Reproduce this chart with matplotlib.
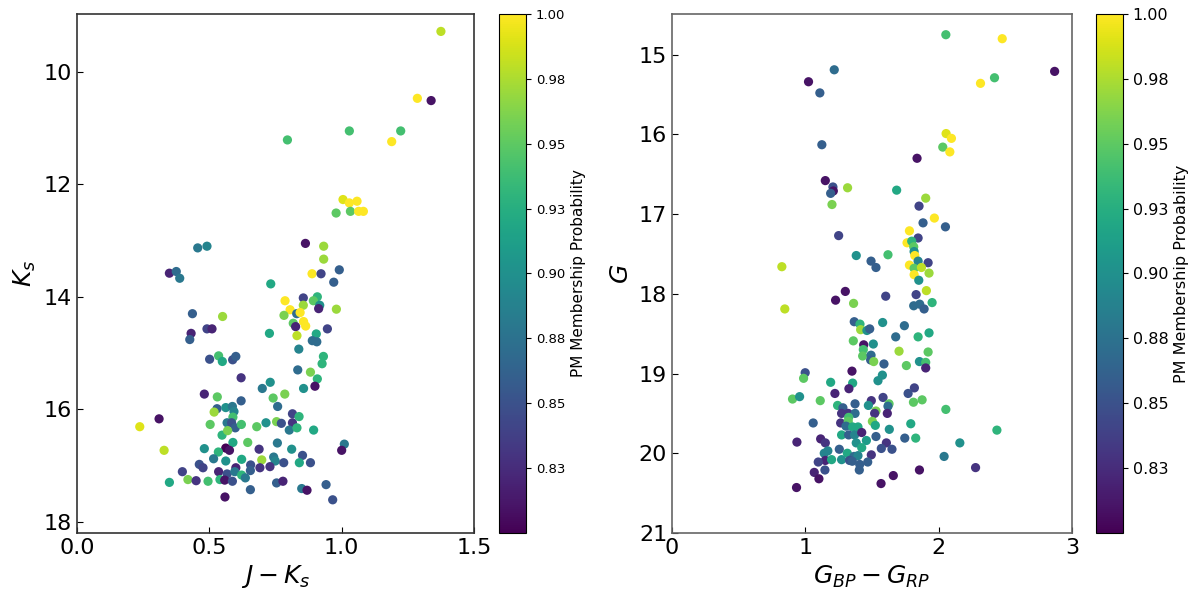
import numpy as np
import matplotlib
matplotlib.use("Agg")
import matplotlib.pyplot as plt
from matplotlib.colors import Normalize

# 2MASS CMD: J-Ks, Ks, membership probability
jk = [1.375, 1.286, 1.338, 0.795, 1.029, 1.223, 1.189, 1.005, 1.029, 1.058,
      0.979, 1.033, 1.064, 1.082, 0.863, 0.932, 0.932, 0.456, 0.491, 0.349,
      0.375, 0.388, 0.888, 0.922, 0.991, 0.970, 0.732, 0.786, 0.855, 0.908,
      0.893, 0.855, 0.917, 0.913, 0.805, 0.782, 0.830, 0.843, 0.856, 0.864,
      0.817, 0.826, 0.831, 0.980, 0.946, 0.904, 0.889, 0.906, 0.838, 0.931,
      0.926, 0.834, 0.882, 0.908, 0.899, 0.856, 0.550, 0.436, 0.491, 0.510,
      0.431, 0.426, 0.727, 0.501, 0.535, 0.549, 0.588, 0.600, 0.620, 0.481,
      0.530, 0.529, 0.518, 0.310, 0.237, 0.329, 0.562, 0.587, 0.593, 0.589,
      0.567, 0.584, 0.598, 0.621, 0.503, 0.548, 0.569, 0.620, 0.700, 0.730,
      0.741, 0.785, 0.758, 0.679, 0.714, 0.754, 0.772, 0.814, 0.814, 0.802,
      0.839, 0.831, 0.894, 0.589, 0.645, 0.757, 1.010, 1.000, 0.481, 0.562,
      0.576, 0.534, 0.688, 0.811, 0.852, 0.516, 0.562, 0.622, 0.656, 0.698,
      0.743, 0.749, 0.781, 0.840, 0.882, 0.462, 0.476, 0.398, 0.600, 0.691,
      0.729, 0.535, 0.567, 0.596, 0.622, 0.636, 0.655, 0.349, 0.419, 0.450,
      0.495, 0.540, 0.558, 0.587, 0.754, 0.778, 0.655, 0.849, 0.869, 0.941,
      0.559, 0.966]
ks = [9.28, 10.47, 10.51, 11.21, 11.05, 11.05, 11.24, 12.27, 12.33, 12.30,
      12.51, 12.48, 12.48, 12.48, 13.05, 13.10, 13.33, 13.13, 13.10, 13.58,
      13.55, 13.67, 13.59, 13.59, 13.52, 13.74, 13.77, 14.07, 14.02, 14.00,
      14.07, 14.15, 14.15, 14.21, 14.23, 14.33, 14.30, 14.28, 14.44, 14.52,
      14.47, 14.53, 14.69, 14.22, 14.57, 14.66, 14.78, 14.80, 14.93, 15.06,
      15.19, 15.30, 15.34, 15.46, 15.59, 15.63, 14.35, 14.30, 14.57, 14.57,
      14.65, 14.76, 14.65, 15.11, 15.05, 15.15, 15.12, 15.06, 15.44, 15.73,
      15.78, 15.99, 16.05, 16.17, 16.31, 16.73, 15.97, 15.95, 16.04, 16.14,
      16.24, 16.24, 16.33, 16.27, 16.27, 16.46, 16.38, 15.85, 15.63, 15.52,
      15.80, 15.73, 15.95, 16.31, 16.24, 16.22, 16.25, 16.08, 16.24, 16.37,
      16.13, 16.33, 16.37, 16.59, 16.59, 16.60, 16.62, 16.73, 16.70, 16.69,
      16.73, 16.76, 16.71, 16.71, 16.82, 16.88, 16.92, 16.89, 16.99, 16.90,
      16.85, 16.92, 16.95, 16.95, 16.95, 16.98, 17.04, 17.11, 17.04, 17.04,
      17.02, 17.11, 17.15, 17.11, 17.17, 17.22, 17.09, 17.30, 17.25, 17.27,
      17.28, 17.25, 17.26, 17.28, 17.31, 17.28, 17.43, 17.41, 17.44, 17.34,
      17.56, 17.61]
prob_2mass = [0.98, 1.00, 0.81, 0.94, 0.94, 0.94, 1.00, 0.99, 1.00, 1.00,
              0.95, 0.95, 1.00, 1.00, 0.81, 0.97, 0.97, 0.88, 0.89, 0.82,
              0.87, 0.88, 1.00, 0.84, 0.86, 0.86, 0.92, 1.00, 0.84, 0.93,
              0.95, 0.97, 0.90, 0.82, 1.00, 0.96, 0.87, 1.00, 1.00, 1.00,
              0.95, 0.82, 0.98, 0.97, 0.84, 0.92, 0.87, 0.87, 0.89, 0.93,
              0.93, 0.87, 0.96, 0.93, 0.81, 0.90, 0.97, 0.86, 0.84, 0.82,
              0.82, 0.86, 0.92, 0.85, 0.94, 0.92, 0.85, 0.86, 0.83, 0.82,
              0.95, 0.86, 0.97, 0.81, 0.99, 0.98, 0.90, 0.88, 0.89, 0.94,
              0.88, 0.85, 0.86, 0.94, 0.95, 0.93, 0.96, 0.86, 0.88, 0.90,
              0.95, 0.96, 0.87, 0.95, 0.90, 0.96, 0.85, 0.84, 0.83, 0.88,
              0.93, 0.93, 0.92, 0.92, 0.95, 0.88, 0.88, 0.81, 0.90, 0.80,
              0.81, 0.93, 0.83, 0.90, 0.85, 0.88, 0.90, 0.92, 0.85, 0.97,
              0.88, 0.89, 0.85, 0.92, 0.85, 0.85, 0.84, 0.84, 0.82, 0.83,
              0.83, 0.82, 0.85, 0.88, 0.93, 0.88, 0.86, 0.92, 0.96, 0.83,
              0.94, 0.93, 0.81, 0.85, 0.86, 0.82, 0.86, 0.88, 0.81, 0.86,
              0.81, 0.85]

# Gaia CMD: BP-RP, G, membership probability
bprp = [2.054, 2.477, 1.217, 1.024, 1.109, 2.314, 2.419, 2.870, 1.124, 2.056,
        2.096, 2.031, 2.084, 1.838, 1.150, 1.207, 1.210, 1.190, 1.317, 1.200,
        1.685, 1.903, 1.853, 1.968, 1.883, 2.051, 1.250, 1.781, 1.846, 1.763,
        1.798, 1.813, 1.816, 0.824, 1.382, 1.493, 1.530, 1.620, 1.821, 1.846,
        1.921, 1.781, 1.816, 1.871, 1.928, 1.816, 1.851, 1.908, 1.831, 1.300,
        1.227, 1.362, 1.603, 0.846, 1.813, 1.858, 1.891, 1.951, 1.367, 1.410,
        1.580, 1.743, 1.415, 1.462, 1.483, 1.510, 1.438, 1.360, 1.435, 1.430,
        1.493, 1.490, 1.513, 1.590, 1.678, 1.846, 1.928, 1.703, 1.921, 1.758,
        1.856, 1.903, 1.903, 1.350, 1.578, 1.545, 0.999, 0.987, 1.190, 1.355,
        1.327, 1.222, 1.818, 1.771, 0.904, 0.957, 1.112, 1.242, 1.282, 1.373,
        1.495, 1.473, 1.583, 1.628, 1.620, 1.811, 1.876, 2.054, 1.272, 1.322,
        1.373, 1.325, 1.530, 1.520, 1.615, 1.059, 1.265, 1.322, 1.305, 1.355,
        1.395, 1.503, 1.525, 1.630, 1.791, 1.272, 1.325, 1.370, 1.423, 1.530,
        1.746, 1.828, 2.437, 2.159, 0.937, 1.115, 1.150, 1.382, 1.458, 1.423,
        1.608, 1.570, 1.650, 1.255, 1.142, 1.169, 1.315, 1.365, 1.395, 1.495,
        2.041, 1.150, 1.197, 1.272, 1.332, 1.352, 1.408, 1.468, 1.097, 1.147,
        1.067, 1.102, 1.405, 1.856, 2.277, 1.660, 1.568, 0.934]
g = [14.75, 14.80, 15.19, 15.34, 15.48, 15.36, 15.29, 15.21, 16.13, 15.99,
     16.05, 16.16, 16.22, 16.30, 16.58, 16.66, 16.71, 16.74, 16.67, 16.88,
     16.70, 16.80, 16.90, 17.05, 17.11, 17.16, 17.27, 17.21, 17.30, 17.36,
     17.34, 17.41, 17.47, 17.66, 17.52, 17.59, 17.67, 17.51, 17.52, 17.59,
     17.61, 17.64, 17.68, 17.67, 17.74, 17.76, 17.83, 17.96, 18.01, 17.97,
     18.08, 18.12, 18.03, 18.19, 18.15, 18.13, 18.19, 18.11, 18.35, 18.38,
     18.36, 18.40, 18.45, 18.46, 18.44, 18.63, 18.64, 18.59, 18.70, 18.78,
     18.77, 18.83, 18.85, 18.88, 18.54, 18.54, 18.49, 18.72, 18.73, 18.90,
     18.85, 18.86, 18.93, 18.97, 19.02, 19.09, 18.99, 19.06, 19.11, 19.12,
     19.19, 19.25, 19.18, 19.25, 19.32, 19.29, 19.34, 19.40, 19.43, 19.38,
     19.34, 19.40, 19.30, 19.38, 19.41, 19.36, 19.33, 19.45, 19.50, 19.50,
     19.50, 19.55, 19.47, 19.50, 19.50, 19.62, 19.62, 19.60, 19.66, 19.67,
     19.67, 19.60, 19.65, 19.70, 19.63, 19.77, 19.77, 19.77, 19.74, 19.79,
     19.81, 19.81, 19.71, 19.87, 19.86, 19.82, 19.87, 19.87, 19.84, 19.93,
     19.87, 19.94, 19.95, 19.95, 20.00, 19.97, 20.00, 20.04, 20.03, 20.02,
     20.04, 20.09, 20.08, 20.08, 20.09, 20.10, 20.14, 20.11, 20.11, 20.21,
     20.24, 20.32, 20.21, 20.21, 20.18, 20.28, 20.38, 20.43]
prob_gaia = [0.94, 1.00, 0.87, 0.81, 0.86, 1.00, 0.94, 0.81, 0.86, 0.99,
             1.00, 0.95, 1.00, 0.81, 0.81, 0.85, 0.81, 0.86, 0.97, 0.96,
             0.92, 0.97, 0.84, 1.00, 0.86, 0.86, 0.84, 1.00, 0.84, 1.00,
             0.93, 0.95, 0.90, 0.98, 0.90, 0.86, 0.86, 0.94, 1.00, 0.89,
             0.84, 1.00, 0.95, 0.98, 0.97, 1.00, 0.90, 0.98, 0.84, 0.81,
             0.81, 0.96, 0.84, 0.98, 0.87, 0.87, 0.86, 0.93, 0.86, 0.93,
             0.90, 0.87, 0.97, 0.90, 0.86, 0.90, 0.81, 0.95, 0.94, 0.95,
             0.87, 0.86, 0.96, 0.86, 0.87, 0.93, 0.92, 0.97, 0.95, 0.95,
             0.90, 0.94, 0.82, 0.81, 0.90, 0.90, 0.85, 0.95, 0.92, 0.92,
             0.82, 0.82, 0.84, 0.85, 0.95, 0.90, 0.95, 0.93, 0.86, 0.86,
             0.83, 0.90, 0.84, 0.95, 0.87, 0.95, 0.95, 0.94, 0.83, 0.83,
             0.87, 0.94, 0.96, 0.83, 0.82, 0.86, 0.83, 0.95, 0.87, 0.92,
             0.92, 0.96, 0.92, 0.90, 0.92, 0.92, 0.86, 0.89, 0.82, 0.86,
             0.86, 0.93, 0.93, 0.90, 0.82, 0.82, 0.83, 0.90, 0.91, 0.92,
             0.83, 0.85, 0.85, 0.86, 0.89, 0.89, 0.92, 0.87, 0.89, 0.83,
             0.88, 0.82, 0.92, 0.90, 0.85, 0.86, 0.86, 0.86, 0.84, 0.85,
             0.82, 0.81, 0.86, 0.81, 0.83, 0.81, 0.81, 0.81]

cbar_ticks = [0.825, 0.85, 0.875, 0.9, 0.925, 0.95, 0.975, 1.0]
cbar_labels = ["0.83", "0.85", "0.88", "0.90", "0.93", "0.95", "0.98", "1.00"]

norm = Normalize(vmin=0.8, vmax=1.0)
fig = plt.figure(figsize=(12, 6), dpi=100)

ax1 = fig.add_axes([0.0642, 0.1117, 0.3308, 0.865])
cax1 = fig.add_axes([0.4158, 0.1117, 0.0225, 0.865])
ax2 = fig.add_axes([0.56, 0.1117, 0.3333, 0.865])
cax2 = fig.add_axes([0.9133, 0.1117, 0.0225, 0.865])

sc1 = ax1.scatter(jk, ks, c=prob_2mass, cmap="viridis", norm=norm, s=44, linewidths=0)
ax1.set_xlim(0, 1.5)
ax1.set_ylim(18.2, 8.97)
ax1.set_xticks([0, 0.5, 1.0, 1.5])
ax1.set_yticks([10, 12, 14, 16, 18])
ax1.set_xlabel("$J-K_s$", fontsize=18)
ax1.set_ylabel("$K_s$", fontsize=18)

sc2 = ax2.scatter(bprp, g, c=prob_gaia, cmap="viridis", norm=norm, s=44, linewidths=0)
ax2.set_xlim(0, 3)
ax2.set_ylim(21, 14.49)
ax2.set_xticks([0, 1, 2, 3])
ax2.set_yticks([15, 16, 17, 18, 19, 20, 21])
ax2.set_xlabel("$G_{BP}-G_{RP}$", fontsize=18)
ax2.set_ylabel("$G$", fontsize=18)

for ax, spc in [(ax1, "#333333"), (ax2, "#666666")]:
    ax.tick_params(direction="in", labelsize=16, length=4)
    for sp in ax.spines.values():
        sp.set_color(spc)
        sp.set_linewidth(1.2)

cb1 = fig.colorbar(sc1, cax=cax1, ticks=cbar_ticks)
cb1.ax.set_yticklabels(cbar_labels)
cb1.ax.tick_params(labelsize=9.5)
cb1.set_label("PM Membership Probability", fontsize=11)

cb2 = fig.colorbar(sc2, cax=cax2, ticks=cbar_ticks)
cb2.ax.set_yticklabels(cbar_labels)
cb2.ax.tick_params(labelsize=11.5)
cb2.set_label("PM Membership Probability", fontsize=11.5)

fig.savefig("out.png", dpi=100)
